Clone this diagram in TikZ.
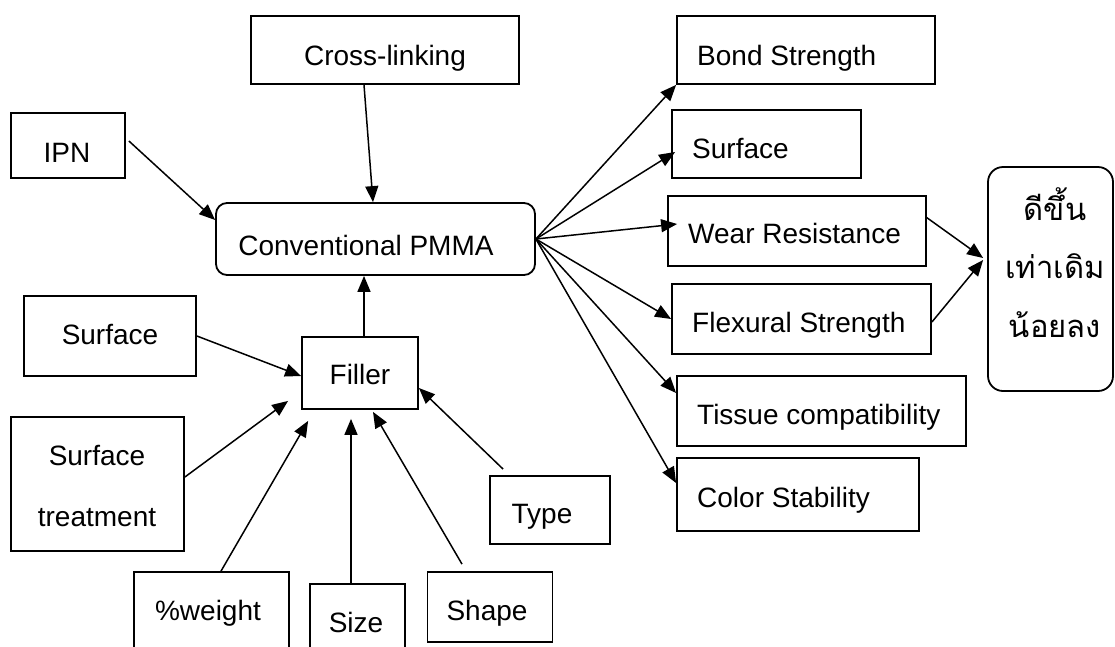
\documentclass[tikz,border=0pt]{standalone}
\usepackage{fontspec}
\setmainfont{Liberation Sans}
\newfontfamily\thaifont[Script=Thai]{Loma}
\usetikzlibrary{arrows.meta}
\begin{document}
\begin{tikzpicture}[x=1pt,y=-1pt,
  box/.style={draw,line width=1.8pt,inner sep=0pt,rectangle},
  rbox/.style={box,rounded corners=11pt},
  txt/.style={inner sep=0pt,font=\fontsize{28}{33}\selectfont},
  thai/.style={inner sep=0pt,font=\thaifont\fontsize{31}{36}\selectfont},
  arr/.style={line width=1.5pt,-{Triangle[length=16pt,width=13pt]}}]
\clip (0,0) rectangle (1115,646);
\fill[white] (0,0) rectangle (1115,646);
% boxes
\node[box,minimum width=268pt,minimum height=68pt] (cross) at (385,50) {};
\node[box,minimum width=114pt,minimum height=65pt] (ipn) at (68,145.5) {};
\node[rbox,minimum width=319pt,minimum height=72pt] (pmma) at (375.5,239) {};
\node[box,minimum width=172pt,minimum height=80pt] (surfL) at (110,336) {};
\node[box,minimum width=116pt,minimum height=72pt] (filler) at (360,373) {};
\node[box,minimum width=173pt,minimum height=134pt] (surftr) at (97.5,484) {};
\node[box,minimum width=155pt,minimum height=128pt] (weight) at (211.5,636) {};
\node[box,minimum width=95pt,minimum height=116pt] (size) at (357.5,642) {};
\node[box,minimum width=125pt,minimum height=70pt] (shape) at (490,607) {};
\node[box,minimum width=120pt,minimum height=68pt] (type) at (550,510) {};
\node[box,minimum width=258pt,minimum height=68pt] (bond) at (806,50) {};
\node[box,minimum width=189pt,minimum height=68pt] (surfR) at (766.5,144) {};
\node[box,minimum width=258pt,minimum height=70pt] (wear) at (797,231) {};
\node[box,minimum width=259pt,minimum height=70pt] (flex) at (801.5,319) {};
\node[box,minimum width=289pt,minimum height=70pt] (tissue) at (821.5,411) {};
\node[box,minimum width=242pt,minimum height=73pt] (color) at (798,494.5) {};
\node[box,rounded corners=15pt,minimum width=125pt,minimum height=224pt] (res) at (1050.5,279) {};
% texts
\node[txt,anchor=base] at (385,65) {Cross-linking};
\node[txt,anchor=base] at (67,162) {IPN};
\node[txt,anchor=base] at (366,255) {Conventional PMMA};
\node[txt,anchor=base] at (110,344) {Surface};
\node[txt,anchor=base] at (360,384) {Filler};
\node[txt,anchor=base] at (97,465) {Surface};
\node[txt,anchor=base] at (97,526) {treatment};
\node[txt,anchor=base] at (208,620) {\%weight};
\node[txt,anchor=base] at (356,632) {Size};
\node[txt,anchor=base] at (487,620) {Shape};
\node[txt,anchor=base] at (542,523) {Type};
\node[txt,anchor=base west] at (697,65) {Bond Strength};
\node[txt,anchor=base west] at (692,158) {Surface};
\node[txt,anchor=base west] at (688,243) {Wear Resistance};
\node[txt,anchor=base west] at (692,332) {Flexural Strength};
\node[txt,anchor=base west] at (697,424) {Tissue compatibility};
\node[txt,anchor=base west] at (697,507) {Color Stability};
\node[thai,anchor=base] at (1055,220) {ดีขึ้น};
\node[thai,anchor=base] at (1055,278) {เท่าเดิม};
\node[thai,anchor=base] at (1055,337) {น้อยลง};
% connectors
\draw[arr] ([xshift=-21pt]cross.south) -- ([xshift=-2.5pt]pmma.north);
\draw[arr] ([xshift=3pt,yshift=4.5pt]ipn.east) -- ([yshift=19pt]pmma.west);
\draw[arr] ([xshift=4pt]filler.north) -- ([xshift=4pt]filler.north |- pmma.south);
\draw[arr] (surfL.east) -- ([yshift=-3pt]filler.west);
\draw[arr] ([yshift=7pt]surftr.east) -- ([xshift=-13pt,yshift=9pt]filler.south west);
\draw[arr] ([xshift=9.5pt]weight.north) -- ([xshift=7pt,yshift=-11pt]filler.south west);
\draw[arr] ([xshift=-6.5pt]size.north) -- ([xshift=-9pt,yshift=-9pt]filler.south);
\draw[arr] ([xshift=-28pt,yshift=7pt]shape.north) -- ([xshift=13pt,yshift=-2pt]filler.south);
\draw[arr] ([xshift=14pt,yshift=6pt]type.north west) -- ([yshift=-15pt]filler.east);
\draw[arr] (pmma.east) -- (bond.south west);
\draw[arr] (pmma.east) -- ([xshift=4pt,yshift=-8pt]surfR.west);
\draw[arr] (pmma.east) -- ([xshift=10pt,yshift=7pt]wear.west);
\draw[arr] (pmma.east) -- (flex.west);
\draw[arr] (pmma.east) -- ([yshift=18pt]tissue.west);
\draw[arr] (pmma.east) -- ([yshift=11.5pt]color.west);
\draw[arr] ([xshift=-1pt,yshift=14pt]wear.east) -- ([xshift=-4pt,yshift=21pt]res.west);
\draw[arr] ([yshift=-3pt]flex.east) -- ([xshift=-4pt,yshift=19pt]res.west);
\end{tikzpicture}
\end{document}
